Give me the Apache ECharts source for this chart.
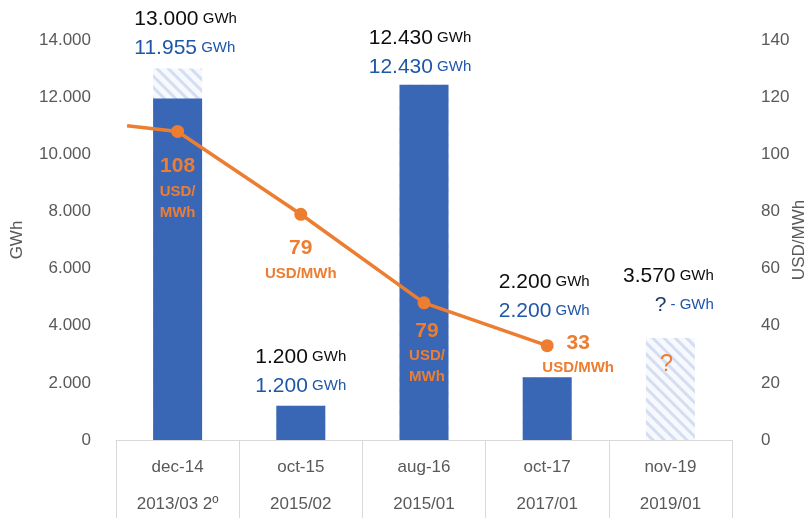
<!DOCTYPE html>
<html>
<head>
<meta charset="utf-8">
<script src="https://cdn.jsdelivr.net/npm/echarts@6/dist/echarts.min.js"></script>
<style>
html,body{margin:0;padding:0;background:#fff;}
#chart{width:811px;height:518px;}
</style>
</head>
<body>
<div id="chart"></div>
<script>
// ---- data ----
const categories = ['dec-14', 'oct-15', 'aug-16', 'oct-17', 'nov-19'];
const rounds = ['2013/03 2º', '2015/02', '2015/01', '2017/01', '2019/01'];
const offeredGWh = [13000, 1200, 12430, 2200, 3570];
const awardedGWh = [11955, 1200, 12430, 2200, 0];
const awardedText = ['11.955', '1.200', '12.430', '2.200', '?'];
const priceUSD = [108, 79, 48, 33];
const priceLabels = ['108', '79', '79', '33'];
const priceLeadIn = 110;
const priceLeadInX = -0.41;
const gwhTicks = [0, 2000, 4000, 6000, 8000, 10000, 12000, 14000];
const usdTicks = [0, 20, 40, 60, 80, 100, 120, 140];

// ---- styles ----
const FONT = 'Liberation Sans';
const ORANGE = '#ED7D31';
const BAR_BLUE = '#3A67B5';
const TEXT_BLUE = '#1F56A8';
const GRAY = '#595959';

function fmt(n) { return String(n).replace(/\B(?=(\d{3})+(?!\d))/g, '.'); }

const barLabelOffsets = [[8, -1], [0, 0], [-4, 1.5], [-3, -46.5], [-2, -13.5]];
const priceLabelOffsets = [[0, 56], [0, 44.5], [3, 49], [31, 7.5]];

const richBar = (align) => ({
  k: { fontSize: 21, color: '#0D0D0D', fontFamily: FONT, lineHeight: 29, align: align },
  ku: { fontSize: 15, color: '#0D0D0D', fontFamily: FONT, lineHeight: 29, align: align },
  b: { fontSize: 21, color: TEXT_BLUE, fontFamily: FONT, lineHeight: 29, align: align },
  bu: { fontSize: 15, color: TEXT_BLUE, fontFamily: FONT, lineHeight: 29, align: align },
  q: { fontSize: 21, color: '#203864', fontFamily: FONT, lineHeight: 29, align: align }
});

const offeredData = offeredGWh.map((v, i) => ({
  value: v,
  label: {
    offset: barLabelOffsets[i],
    rich: richBar(i === 4 ? 'right' : 'left'),
    formatter: () => {
      const second = awardedText[i] === '?' ? '{q|?}{bu| - GWh}' : '{b|' + awardedText[i] + '}{bu| GWh}';
      return '{k|' + fmt(v) + '}{ku| GWh}\n' + second;
    }
  }
}));

const awardedData = awardedGWh.map((v, i) => {
  if (awardedText[i] === '?') {
    return {
      value: v,
      label: {
        show: true, position: 'top', offset: [-4, -59], formatter: '?',
        color: ORANGE, fontSize: 24, fontFamily: FONT
      }
    };
  }
  return { value: v };
});

const lineData = [{ value: [priceLeadInX, priceLeadIn], symbol: 'none', label: { show: false } }]
  .concat(priceUSD.map((v, i) => ({
    value: [i, v],
    label: {
      offset: priceLabelOffsets[i],
      formatter: (i === 1 || i === 3)
        ? '{v|' + priceLabels[i] + '}\n{u|USD/MWh}'
        : '{v|' + priceLabels[i] + '}\n{u|USD/}\n{u|MWh}'
    }
  })));

const chart = echarts.init(document.getElementById('chart'), null, { renderer: 'canvas' });
chart.setOption({
  animation: false,
  backgroundColor: '#fff',
  textStyle: { fontFamily: FONT },
  grid: { left: 116, right: 79, top: 40, bottom: 78, containLabel: false, outerBoundsMode: 'none' },
  xAxis: [{
    type: 'category',
    data: categories,
    axisLine: { lineStyle: { color: '#D9D9D9', width: 1 } },
    axisTick: { show: true, length: 78, interval: 0, lineStyle: { color: '#D9D9D9', width: 1 } },
    axisLabel: {
      interval: 0, margin: 8.5, color: GRAY, fontSize: 17, fontFamily: FONT, lineHeight: 37,
      formatter: (v, i) => v + '\n' + rounds[i]
    },
    splitLine: { show: false }
  }, {
    type: 'value', min: -0.5, max: 4.5, show: false
  }],
  yAxis: [{
    type: 'value', min: gwhTicks[0], max: gwhTicks[gwhTicks.length - 1], interval: gwhTicks[1] - gwhTicks[0],
    name: 'GWh', nameLocation: 'middle', nameGap: 90, nameRotate: 90, nameMoveOverlap: false,
    nameTextStyle: { fontSize: 17, color: GRAY, fontFamily: FONT },
    axisLine: { show: false }, axisTick: { show: false }, splitLine: { show: false },
    axisLabel: { formatter: (v) => fmt(v), color: GRAY, fontSize: 17, fontFamily: FONT, margin: 25 }
  }, {
    type: 'value', position: 'right', min: usdTicks[0], max: usdTicks[usdTicks.length - 1], interval: usdTicks[1] - usdTicks[0],
    name: 'USD/MWh', nameLocation: 'middle', nameGap: 59, nameRotate: 90, nameMoveOverlap: false,
    nameTextStyle: { fontSize: 17, color: GRAY, fontFamily: FONT },
    axisLine: { show: false }, axisTick: { show: false }, splitLine: { show: false },
    axisLabel: { color: GRAY, fontSize: 17, fontFamily: FONT, margin: 29 }
  }],
  series: [{
    name: 'offered', type: 'bar', xAxisIndex: 0, yAxisIndex: 0,
    data: offeredData, barWidth: 49, barGap: '-100%',
    itemStyle: {
      color: '#F7F9FD',
      decal: { symbol: 'rect', symbolSize: 1, dashArrayX: [1, 0], dashArrayY: [3, 5], rotation: Math.PI / 4, color: '#D3DEF2' }
    },
    label: { show: true, position: 'top', distance: 5, fontFamily: FONT },
    z: 2
  }, {
    name: 'awarded', type: 'bar', xAxisIndex: 0, yAxisIndex: 0,
    data: awardedData, barWidth: 49, barGap: '-100%',
    itemStyle: { color: BAR_BLUE },
    label: { show: false },
    z: 3
  }, {
    name: 'price', type: 'line', xAxisIndex: 1, yAxisIndex: 1,
    data: lineData, symbol: 'circle', symbolSize: 13,
    lineStyle: { color: ORANGE, width: 3.5 },
    itemStyle: { color: ORANGE },
    label: {
      show: true, position: 'inside', align: 'center', verticalAlign: 'middle',
      rich: {
        v: { fontSize: 21, fontWeight: 'bold', color: ORANGE, fontFamily: FONT, lineHeight: 30, align: 'center' },
        u: { fontSize: 15, fontWeight: 'bold', color: ORANGE, fontFamily: FONT, lineHeight: 21, align: 'center' }
      }
    },
    z: 5
  }]
});
</script>
</body>
</html>
